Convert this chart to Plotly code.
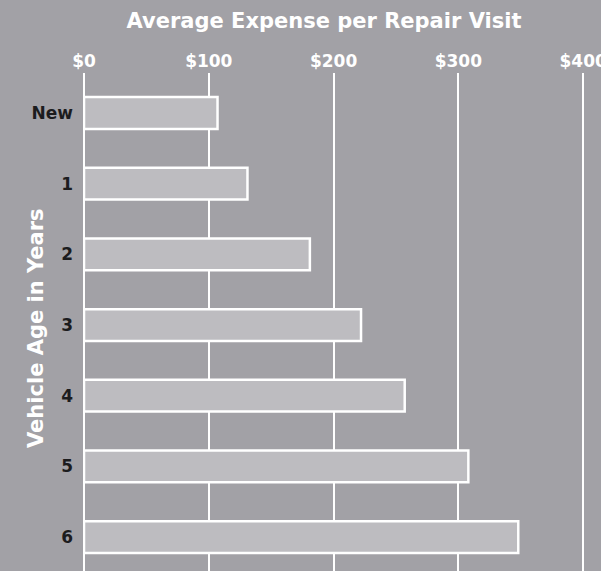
import plotly.graph_objects as go

categories = ["New", "1", "2", "3", "4", "5", "6"]
expense = [107, 131, 181, 222, 257, 308, 348]
tick_vals = [0, 100, 200, 300, 400]
tick_text = ["$0", "$100", "$200", "$300", "$400"]

BG = "#a2a1a6"
BAR = "#bdbcc0"
FONT = "DejaVu Sans"

fig = go.Figure(go.Bar(
    y=categories, x=expense, orientation="h",
    width=0.45,
    marker=dict(color=BAR, line=dict(color="white", width=2.5)),
))

fig.update_layout(
    width=601, height=571,
    paper_bgcolor=BG, plot_bgcolor=BG,
    margin=dict(l=84, r=0, t=73, b=0, autoexpand=False),
    showlegend=False,
    title=dict(
        text="Average Expense per Repair Visit",
        x=324/601, xanchor="center", xref="container",
        y=1-21/571, yanchor="middle", yref="container",
        font=dict(family=FONT, size=21, color="white", weight="bold"),
    ),
    xaxis=dict(
        side="top", range=[0, 414.3], automargin=False,
        tickvals=tick_vals, ticktext=tick_text,
        tickfont=dict(family=FONT, size=17, color="white", weight="bold"),
        showgrid=True, gridcolor="white", gridwidth=1.5,
        zeroline=True, zerolinecolor="white", zerolinewidth=2,
        ticks="", ticklabelstandoff=2, ticklabeloverflow="allow",
    ),
    yaxis=dict(
        range=[6.48, -0.566], automargin=False,
        tickfont=dict(family=FONT, size=17, color="#1c1c1e", weight="bold"),
        showgrid=False, zeroline=False,
        ticks="", ticklabelstandoff=10,
    ),
    annotations=[dict(
        text="Vehicle Age in Years", textangle=-90,
        xref="paper", yref="paper",
        x=(36 - 84) / 517, y=(571 - 328) / 498,
        xanchor="center", yanchor="middle", showarrow=False,
        font=dict(family=FONT, size=21, color="white", weight="bold"),
    )],
)

fig.write_html(
    "out.html",
    config={"displayModeBar": False},
    post_script="document.body.style.margin='0';document.body.style.padding='0';",
)
